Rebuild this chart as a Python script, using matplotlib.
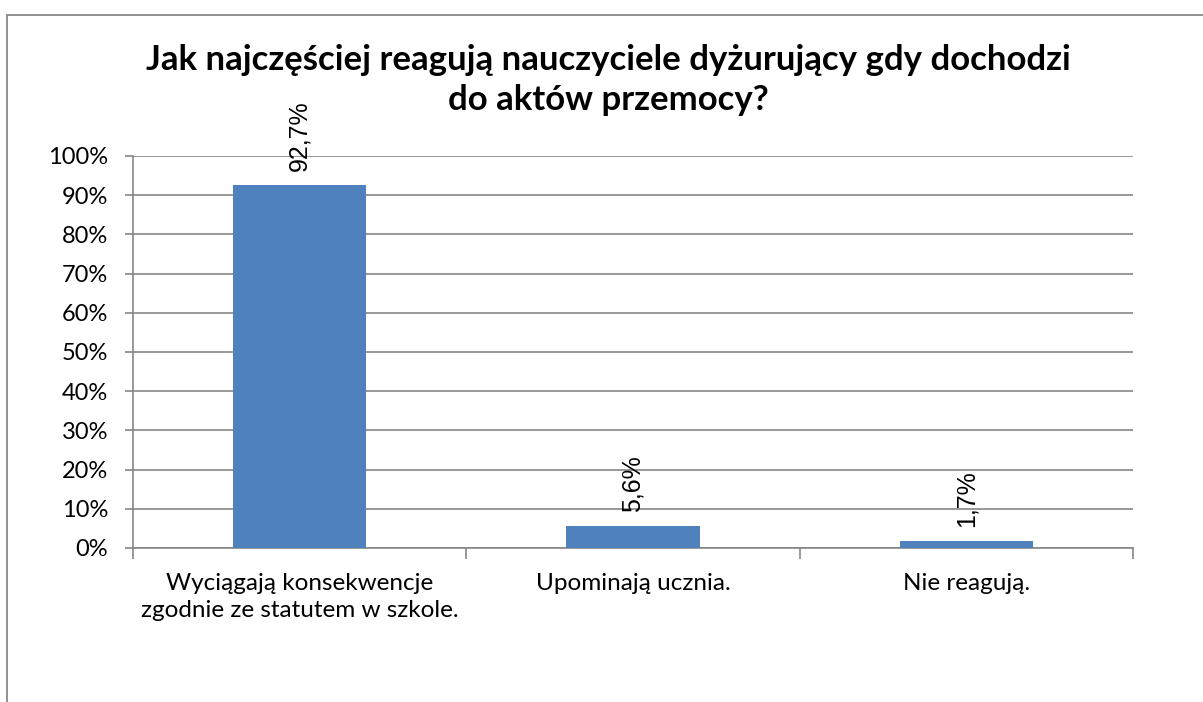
import matplotlib
matplotlib.use("Agg")
import matplotlib.pyplot as plt
import numpy as np
from matplotlib.patches import Rectangle
from matplotlib.ticker import FixedLocator

categories = ["Wyciągają konsekwencje\nzgodnie ze statutem w szkole.",
              "Upominają ucznia.",
              "Nie reagują."]
values = [92.7, 5.6, 1.7]
value_labels = ["92,7%", "5,6%", "1,7%"]
yticks = [0, 10, 20, 30, 40, 50, 60, 70, 80, 90, 100]
title_lines = ["Jak najczęściej reagują nauczyciele dyżurujący gdy dochodzi",
               "do aktów przemocy?"]

W, H = 1203, 702
fig = plt.figure(figsize=(W / 100, H / 100), dpi=100)
grid_color = "#868686"
bar_color = "#4F81BD"

# outer chart frame (extends past right/bottom edges)
fig.patches.append(Rectangle((7 / W, -0.1), 1.2, 1 - 15 / H + 0.1,
                             transform=fig.transFigure, fill=False,
                             edgecolor="#888888", linewidth=1.3))

ax = fig.add_axes([133 / W, 1 - 548 / H, 1000 / W, 392 / H])
x = np.arange(len(categories))
ax.bar(x, values, width=0.4, color=bar_color, zorder=3)
ax.set_xlim(-0.5, len(categories) - 0.5)
ax.set_ylim(0, 100)

ax.set_yticks(yticks)
ax.set_yticklabels([f"{t}%" for t in yticks], fontfamily="Lato", fontsize=17)
ax.yaxis.grid(True, color=grid_color, linewidth=1.2, zorder=0)
ax.tick_params(axis="y", length=6, color=grid_color, width=1.2, pad=12)

ax.xaxis.set_major_locator(FixedLocator(np.arange(-0.5, len(categories), 1)))
ax.xaxis.set_minor_locator(FixedLocator(x))
ax.set_xticklabels([])
ax.set_xticklabels(categories, minor=True, fontfamily="Lato", fontsize=17.5,
                   linespacing=1.35)
ax.tick_params(axis="x", which="major", length=8, color=grid_color, width=1.2,
               direction="out")
ax.tick_params(axis="x", which="minor", length=0, pad=18)

for s in ["top", "right"]:
    ax.spines[s].set_visible(False)
for s in ["left", "bottom"]:
    ax.spines[s].set_color(grid_color)
    ax.spines[s].set_linewidth(1.2)

for xi, v, lab in zip(x, values, value_labels):
    ax.annotate(lab, (xi, v), xytext=(0, 10), textcoords="offset points",
                rotation=90, ha="center", va="bottom",
                fontfamily="Liberation Sans", fontsize=18)

# title drawn as two centred lines
for i, line in enumerate(title_lines):
    fig.text(608 / W, 1 - (60 + 40 * i) / H, line, ha="center", va="center",
             fontfamily="Lato", fontweight="bold", fontsize=25)

fig.savefig("out.png", dpi=100)
